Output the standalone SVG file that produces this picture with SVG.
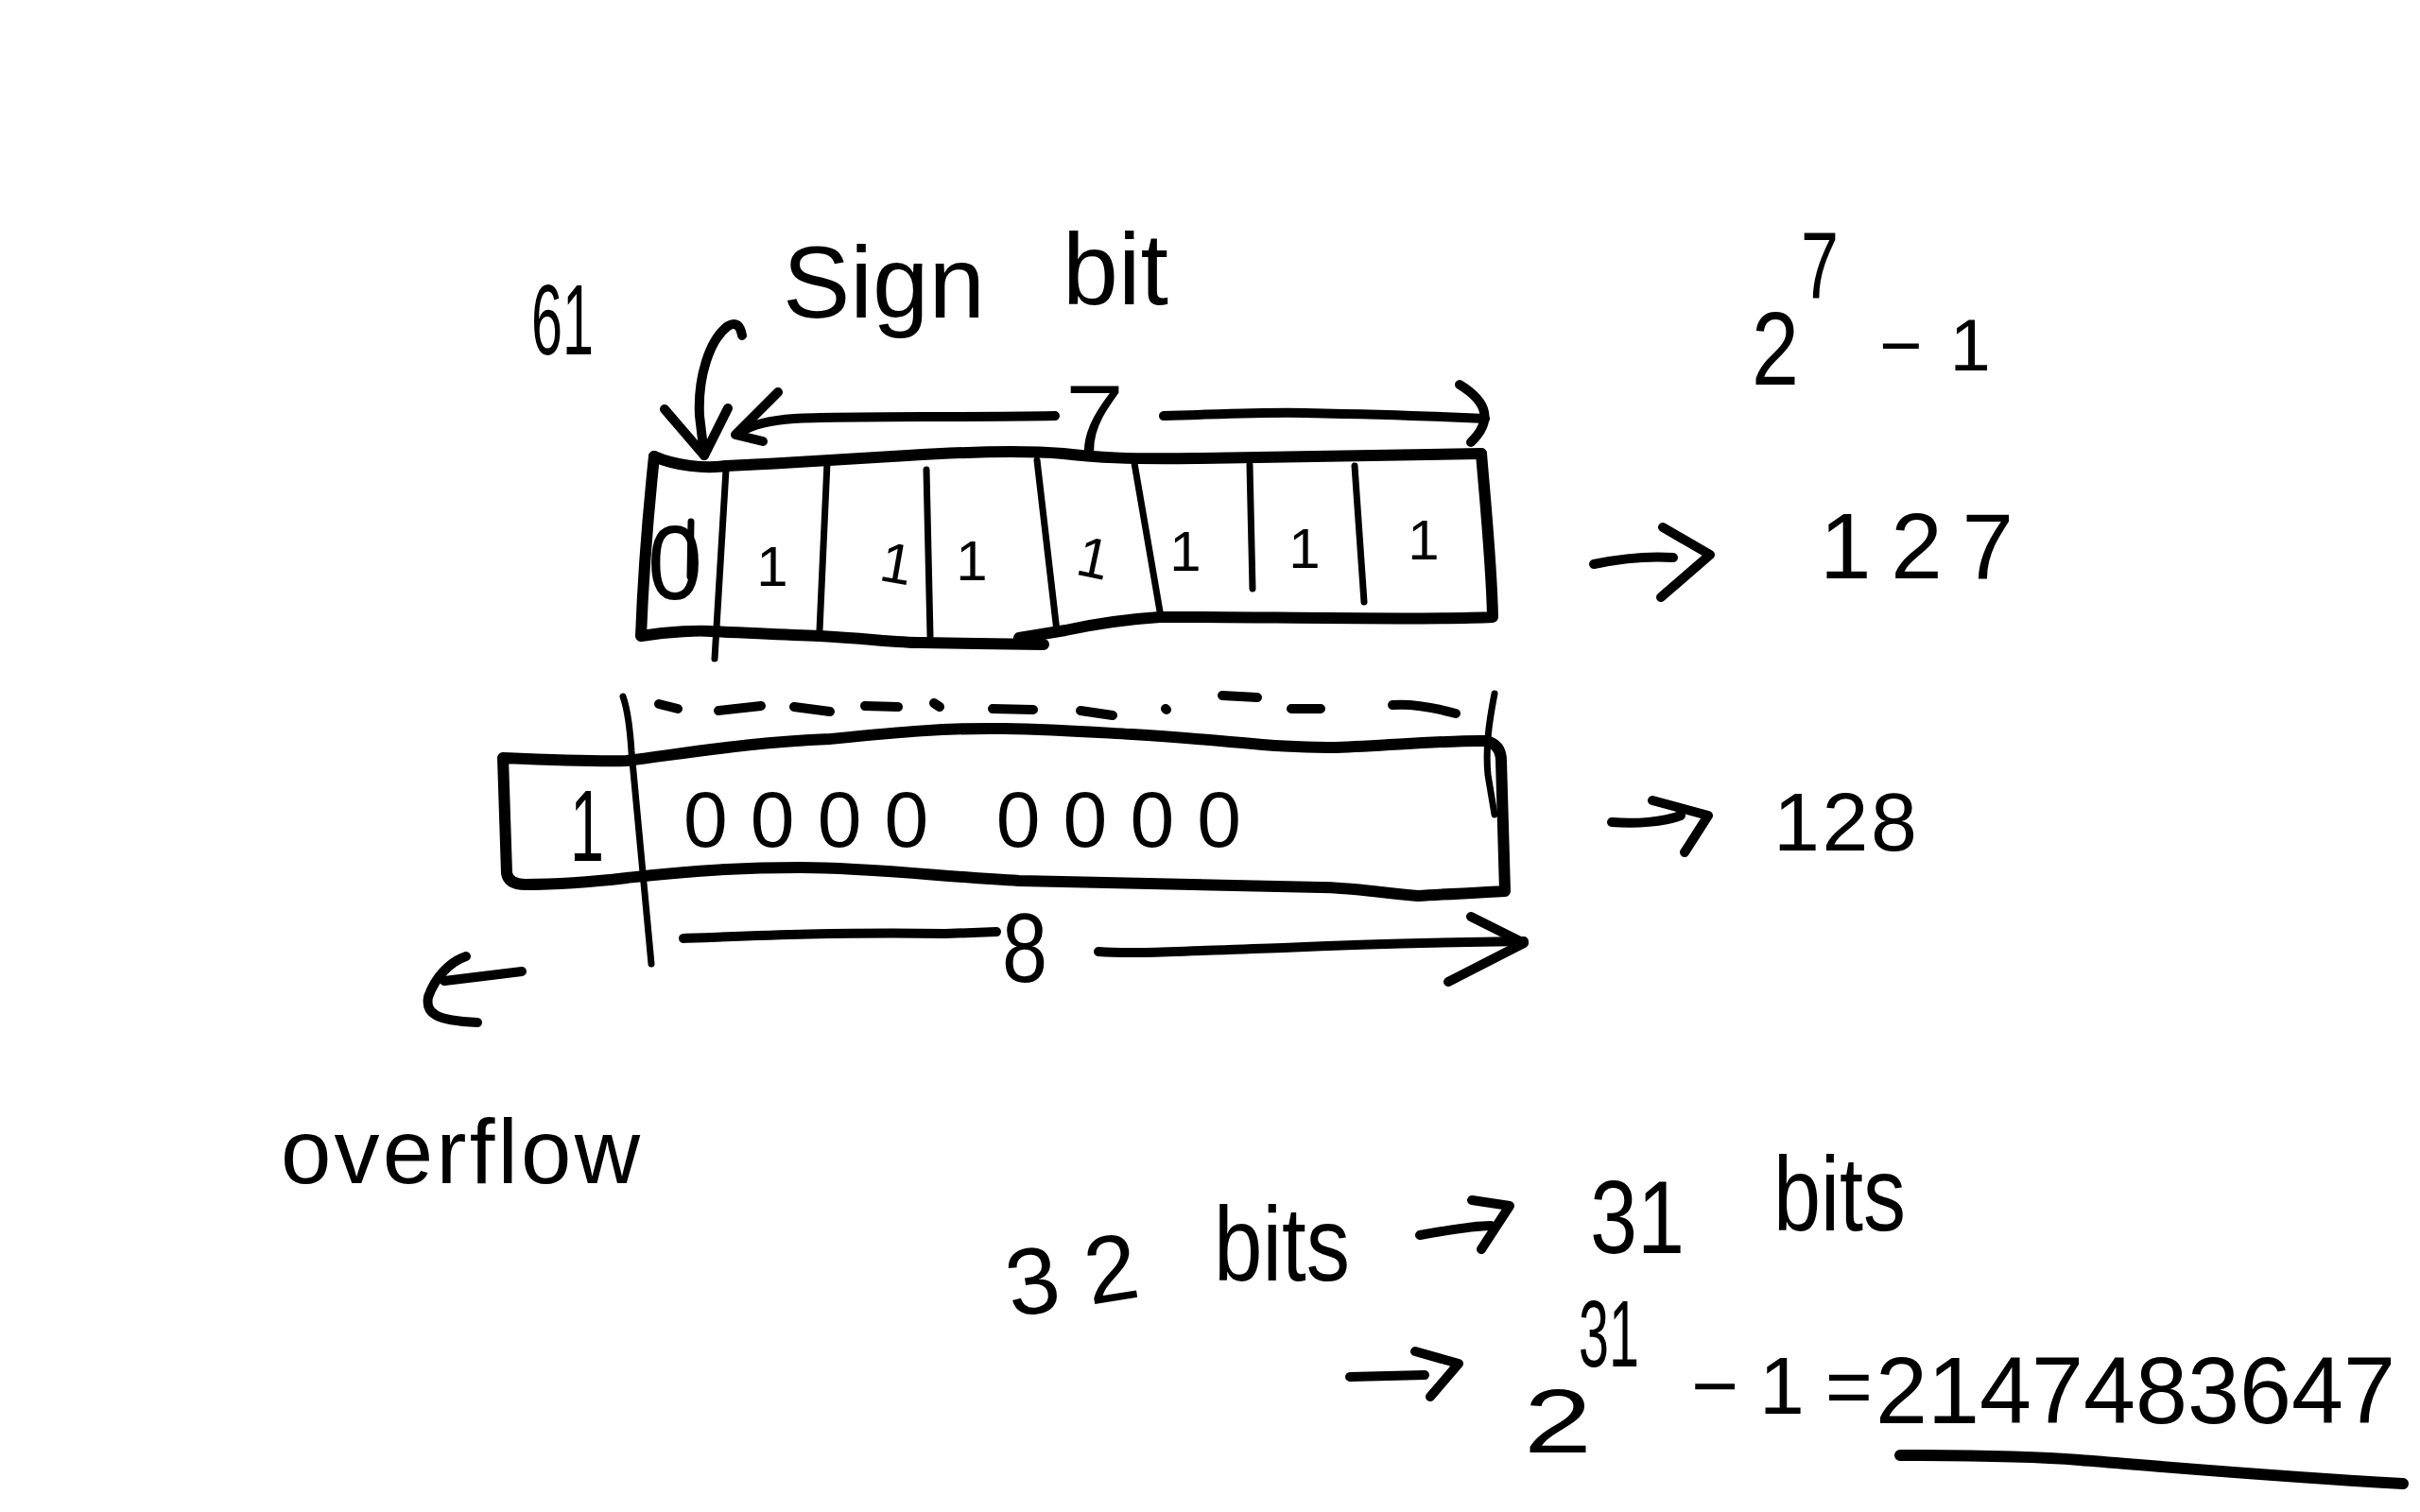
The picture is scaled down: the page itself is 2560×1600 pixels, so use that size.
<svg xmlns="http://www.w3.org/2000/svg" width="2560" height="1600" viewBox="0 0 2560 1600">
<style>
.pen{fill:none;stroke:#000;stroke-width:10;stroke-linecap:round;stroke-linejoin:round}
.thin{stroke-width:7}
.bold{stroke-width:12}
.t{font-family:"Liberation Sans",Arial,sans-serif;fill:#000}
</style>
<rect width="2560" height="1600" fill="#fff"/>

<g id="label-61">
<text class="t" x="562" y="375" font-size="105" textLength="66" lengthAdjust="spacingAndGlyphs">61</text>
</g>

<g id="label-sign-bit">
<text class="t" font-size="108"><tspan x="828" y="336" textLength="214" lengthAdjust="spacingAndGlyphs">Sign</tspan><tspan x="1124" y="322" textLength="112" lengthAdjust="spacingAndGlyphs">bit</tspan></text>
</g>

<g id="box-127">
<path class="pen bold" d="M692,483 C715,493 745,496 768,493 C830,490 880,487 960,482 C1040,477 1090,477 1125,480 C1160,484 1190,486 1265,485 C1400,483 1500,481 1567,480"/>
<path class="pen bold" d="M1567,480 C1572,540 1578,600 1579,653 C1500,657 1300,652 1227,653 C1180,656 1150,662 1127,667 L1078,675"/>
<path class="pen bold" d="M692,483 C686,540 680,620 678,673 C710,668 740,667 752,668 C800,670 830,672 867,673 C920,676 950,680 974,680 L1104,682"/>
<path class="pen thin" d="M768,497 L756,697 M875,490 L867,667 M980,497 L984,673 M1097,487 L1118,668 M1200,490 L1227,647 M1322,492 L1325,623 M1433,493 L1443,637"/>
<text class="t" x="714" y="634" font-size="112" text-anchor="middle" textLength="58" lengthAdjust="spacingAndGlyphs">0</text>
<path class="pen thin" d="M731,552 L730,610"/>
<g class="t" font-size="60" text-anchor="middle">
<text x="817" y="620">1</text>
<text x="948" y="617" transform="rotate(10 948 600)">1</text>
<text x="1028" y="614">1</text>
<text x="1156" y="611" transform="rotate(12 1156 595)">1</text>
<text x="1254" y="604">1</text>
<text x="1380" y="601">1</text>
<text x="1506" y="592">1</text>
</g>
</g>

<g id="label-2pow7">
<text class="t" x="1905" y="316" font-size="100" textLength="40" lengthAdjust="spacingAndGlyphs">7</text>
<text class="t" x="1853" y="407" font-size="110" textLength="50" lengthAdjust="spacingAndGlyphs">2</text>
<text class="t" x="1988" y="392" font-size="78" textLength="118">−1</text>
</g>

<g id="label-127">
<text class="t" x="1925" y="612" font-size="98" textLength="205">127</text>
</g>

<g id="box-128">
<path class="pen bold" d="M532,802 C580,804 630,806 663,805 C740,795 800,785 878,782 C950,775 1000,770 1062,771 C1120,772 1160,775 1197,777 C1300,783 1350,792 1413,791 C1480,788 1540,783 1572,784 Q1588,788 1588,805 L1592,943 C1560,945 1530,946 1500,948 C1460,945 1430,939 1397,939 C1250,936 1150,933 1078,932 C1000,928 920,918 847,918 C760,918 700,925 663,929 C620,934 580,936 556,936 Q538,936 536,924 Z"/>
<path class="pen thin" d="M659,737 C663,748 666,765 668,795 L689,1020"/>
<path class="pen thin" d="M1581,734 C1576,760 1571,790 1574,820 L1581,862"/>
<path class="pen" d="M697,745 L717,750 M760,752 L805,747 M840,748 L878,753 M915,747 L950,748 M988,744 L994,748 M1050,750 L1093,751 M1143,752 L1177,757 M1233,750 L1234,751 M1293,736 L1330,738 M1366,750 L1397,750 M1473,746 Q1500,744 1540,755"/>
<text class="t" x="621" y="911" font-size="108" text-anchor="middle" textLength="36" lengthAdjust="spacingAndGlyphs">1</text>
<text class="t" x="723" y="896" font-size="84" textLength="590">0000 0000</text>
</g>

<g id="label-128">
<text class="t" x="1876" y="900" font-size="88" textLength="152">128</text>
</g>

<g id="label-overflow">
<text class="t" x="297" y="1252" font-size="96" textLength="380">overflow</text>
</g>

<g id="label-32bits">
<text class="t" x="1070" y="1394" font-size="100" textLength="140" transform="rotate(-9 1070 1394)">32</text>
<text class="t" x="1284" y="1355" font-size="112" textLength="144" lengthAdjust="spacingAndGlyphs">bits</text>
</g>

<g id="label-31bits">
<text class="t" x="1682" y="1326" font-size="110" textLength="100" lengthAdjust="spacingAndGlyphs">31</text>
<text class="t" x="1876" y="1302" font-size="112" textLength="140" lengthAdjust="spacingAndGlyphs">bits</text>
</g>

<g id="label-2pow31">
<text class="t" x="1670" y="1446" font-size="100" textLength="64" lengthAdjust="spacingAndGlyphs">31</text>
<text class="t" x="1612" y="1537" font-size="96" textLength="72" lengthAdjust="spacingAndGlyphs">2</text>
<text class="t" x="1789" y="1496" font-size="86" textLength="192">−1=</text>
<text class="t" x="1984" y="1506" font-size="100" textLength="550" lengthAdjust="spacingAndGlyphs">2147483647</text>
<path class="pen bold" d="M2010,1540 C2100,1540 2150,1541 2200,1545 C2300,1553 2400,1562 2542,1570"/>
</g>

<g id="connectors">
<path class="pen" d="M785,355 Q782,338 770,345 C750,360 738,400 740,440 L745,482"/>
<path class="pen" d="M703,433 L745,482 L770,432"/>
<path class="pen" d="M1116,440 C1000,442 900,440 840,443 C810,445 795,450 783,457"/>
<path class="pen" d="M823,415 L778,460 L807,467"/>
<text class="t" x="1127" y="478" font-size="100" textLength="62" lengthAdjust="spacingAndGlyphs">7</text>
<path class="pen" d="M1231,440 C1300,438 1340,436 1380,437 C1480,439 1530,441 1571,443"/>
<path class="pen" d="M1544,407 Q1590,435 1556,468"/>
<path class="pen" d="M1686,597 C1710,592 1740,588 1770,590"/>
<path class="pen" d="M1759,558 L1809,587 L1757,632"/>
<path class="pen" d="M723,993 C800,990 900,986 1000,988 L1054,986"/>
<text class="t" x="1060" y="1039" font-size="104" textLength="48" lengthAdjust="spacingAndGlyphs">8</text>
<path class="pen" d="M1162,1007 C1200,1010 1260,1006 1357,1003 C1450,999 1540,997 1612,996"/>
<path class="pen" d="M1556,970 L1612,998 L1532,1039"/>
<path class="pen" d="M1705,870 C1730,872 1760,870 1778,863"/>
<path class="pen" d="M1748,847 L1807,863 L1782,902"/>
<path class="pen" d="M552,1028 L470,1038"/>
<path class="pen" d="M493,1012 C475,1018 460,1035 453,1055 C450,1072 460,1080 505,1082"/>
<path class="pen" d="M1502,1307 C1530,1302 1560,1297 1577,1297"/>
<path class="pen" d="M1557,1270 L1597,1276 L1567,1322"/>
<path class="pen" d="M1428,1457 L1507,1455"/>
<path class="pen" d="M1497,1430 L1543,1443 L1513,1478"/>
</g>
</svg>
